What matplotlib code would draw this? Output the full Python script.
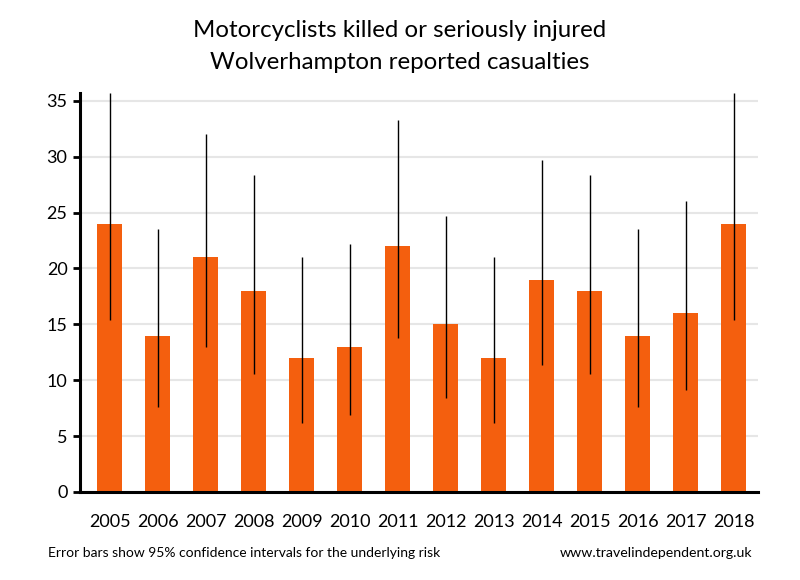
import matplotlib
matplotlib.use("Agg")
import matplotlib.pyplot as plt
import numpy as np

years = ["2005", "2006", "2007", "2008", "2009", "2010", "2011",
         "2012", "2013", "2014", "2015", "2016", "2017", "2018"]
values = [24, 14, 21, 18, 12, 13, 22, 15, 12, 19, 18, 14, 16, 24]
ci_low = [15.4, 7.6, 13.0, 10.6, 6.2, 6.9, 13.8, 8.4, 6.2, 11.4, 10.6, 7.6, 9.1, 15.4]
ci_high = [35.7, 23.5, 32.0, 28.4, 21.0, 22.2, 33.3, 24.7, 21.0, 29.7, 28.4, 23.5, 26.0, 35.7]
yticks = [0, 5, 10, 15, 20, 25, 30, 35]

plt.rcParams['font.family'] = ['Lato', 'DejaVu Sans']

fig = plt.figure(figsize=(8, 5.8), dpi=100)
W, H = 800, 580
ax = fig.add_axes([80 / W, 1 - 492 / H, (758 - 80) / W, (492 - 93) / H])

x = np.arange(len(years))
ax.bar(x, values, width=0.52, color="#f45f0e", zorder=2)
ax.vlines(x, ci_low, ci_high, color="black", linewidth=1, zorder=3)

ax.set_xlim(-0.615, 13.51)
ax.set_ylim(0, 35.7)
ax.set_yticks(yticks)
ax.set_xticks(x)
ax.set_xticklabels(years)
ax.yaxis.grid(True, color="#e6e6e6", linewidth=1.5, zorder=0)
ax.set_axisbelow(True)

for s in ["top", "right"]:
    ax.spines[s].set_visible(False)
for s in ["left", "bottom"]:
    ax.spines[s].set_linewidth(2.2)
    ax.spines[s].set_color("black")

ax.tick_params(axis="y", direction="out", length=5, width=2, labelsize=13, pad=4)
ax.tick_params(axis="x", length=0, labelsize=13, pad=16)

fig.text(0.5, 1 - 37 / H, "Motorcyclists killed or seriously injured", ha="center", va="baseline", fontsize=17.3)
fig.text(0.5, 1 - 69 / H, "Wolverhampton reported casualties", ha="center", va="baseline", fontsize=17.3)
fig.text(48 / W, 1 - 553 / H, "Error bars show 95% confidence intervals for the underlying risk", ha="left", va="center", fontsize=10)
fig.text(752 / W, 1 - 553 / H, "www.travelindependent.org.uk", ha="right", va="center", fontsize=10.2)

fig.savefig("out.png", dpi=100)
